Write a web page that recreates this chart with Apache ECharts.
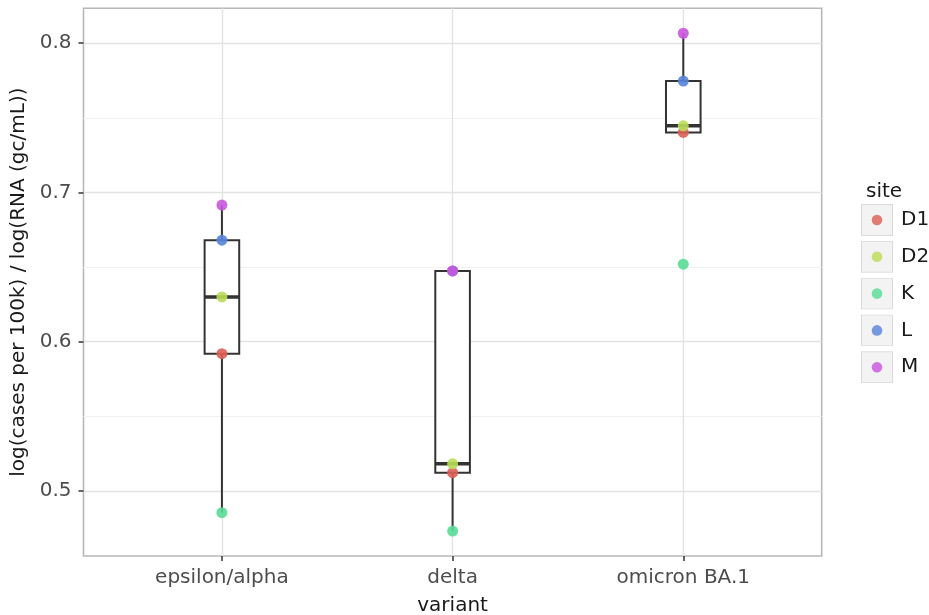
<!DOCTYPE html>
<html>
<head>
<meta charset="utf-8">
<script src="https://cdn.jsdelivr.net/npm/echarts@6/dist/echarts.min.js"></script>
<style>
  html, body { margin: 0; padding: 0; background: #fff; }
  #chart { width: 929px; height: 615px; }
</style>
</head>
<body>
<div id="chart"></div>
<script>
const variants = ["epsilon/alpha", "delta", "omicron BA.1"];
const sites = ["D1", "D2", "K", "L", "M"];
const siteColors = ["#db5f57", "#b9db57", "#57db94", "#5784db", "#c957db"];

// ratio per site, one value per variant (same order as variants)
const siteValues = {
  D1: [0.592, 0.5123, 0.7402],
  D2: [0.630, 0.5182, 0.7446],
  K:  [0.4855, 0.4732, 0.6519],
  L:  [0.668, 0.6474, 0.7746],
  M:  [0.6915, 0.6474, 0.8066]
};

// box statistics
const boxLow  = [0.4855, 0.4732, 0.7402];
const boxQ1   = [0.592, 0.5123, 0.7402];
const boxMed  = [0.630, 0.5182, 0.7446];
const boxQ3   = [0.668, 0.6474, 0.7746];
const boxHigh = [0.6915, 0.6474, 0.8066];

const yTicks = [0.5, 0.6, 0.7, 0.8];
const yMinorTicks = [0.55, 0.65, 0.75];

const chart = echarts.init(document.getElementById("chart"), null, { renderer: "canvas" });
const font = "DejaVu Sans";

const keyIcon = (color) => "image://data:image/svg+xml;utf8," + encodeURIComponent(
  `<svg xmlns="http://www.w3.org/2000/svg" width="32" height="32"><rect x="0.5" y="0.5" width="31" height="31" fill="#f2f2f2" stroke="#d6d6d6"/><circle cx="16" cy="16" r="5.3" fill="${color}" fill-opacity="0.9"/></svg>`);

const boxSeries = {
  type: "custom",
  z: 2,
  silent: true,
  data: variants.map((v, i) => [i, boxLow[i], boxQ1[i], boxMed[i], boxQ3[i], boxHigh[i]]),
  renderItem: (params, api) => {
    const x = api.value(0);
    const half = api.size([0.15, 0])[0] / 2;
    const pLow = api.coord([x, api.value(1)]);
    const pQ1 = api.coord([x, api.value(2)]);
    const pMed = api.coord([x, api.value(3)]);
    const pQ3 = api.coord([x, api.value(4)]);
    const pHigh = api.coord([x, api.value(5)]);
    const stroke = { stroke: "#333333", lineWidth: 2 };
    return {
      type: "group",
      children: [
        { type: "line", shape: { x1: pQ3[0], y1: pQ3[1], x2: pHigh[0], y2: pHigh[1] }, style: stroke },
        { type: "line", shape: { x1: pLow[0], y1: pLow[1], x2: pQ1[0], y2: pQ1[1] }, style: stroke },
        { type: "rect", shape: { x: pQ3[0] - half, y: pQ3[1], width: half * 2, height: pQ1[1] - pQ3[1] },
          style: { fill: "#ffffff", stroke: "#333333", lineWidth: 2 } },
        { type: "line", shape: { x1: pMed[0] - half, y1: pMed[1], x2: pMed[0] + half, y2: pMed[1] },
          style: { stroke: "#333333", lineWidth: 3.5 } }
      ]
    };
  }
};

const pointSeries = sites.map((s, k) => ({
  name: s,
  type: "scatter",
  z: 3,
  symbol: "circle",
  symbolSize: 11,
  itemStyle: { color: siteColors[k], opacity: 0.9 },
  data: siteValues[s].map((v, i) => [i, v])
}));

chart.setOption({
  animation: false,
  backgroundColor: "#ffffff",
  textStyle: { fontFamily: font },
  title: {
    text: "site", left: 861, top: 177,
    textStyle: { fontFamily: font, fontSize: 20, fontWeight: "normal", color: "#1a1a1a" }
  },
  legend: {
    orient: "vertical", left: 861, top: 204,
    itemWidth: 32, itemHeight: 32, itemGap: 4.8,
    padding: 0,
    textStyle: { fontFamily: font, fontSize: 20, color: "#1a1a1a", padding: [0, 0, 0, 3] },
    data: sites.map((s, k) => ({ name: s, icon: keyIcon(siteColors[k]) }))
  },
  grid: {
    left: 83.5, right: 107.3, top: 8.3, bottom: 59,
    show: true, backgroundColor: "#ffffff", borderColor: "#b8b8b8", borderWidth: 1.6,
    containLabel: false, outerBoundsMode: "none"
  },
  xAxis: {
    type: "value", min: -0.6, max: 2.6, position: "bottom",
    name: "variant", nameLocation: "middle", nameGap: 40,
    nameTextStyle: { fontFamily: font, fontSize: 20, color: "#1a1a1a" },
    axisLine: { show: false, onZero: false },
    axisTick: { show: true, length: 5, customValues: [0, 1, 2], lineStyle: { color: "#333333", width: 1.5 } },
    axisLabel: { customValues: [0, 1, 2], formatter: v => variants[Math.round(v)], fontSize: 20, color: "#4d4d4d", margin: 12, fontFamily: font },
    splitLine: { show: true, lineStyle: { color: "#e3e3e3", width: 1.4 } }
  },
  yAxis: [{
    type: "value", min: 0.4565, max: 0.8233, position: "left",
    name: "log(cases per 100k) / log(RNA (gc/mL))", nameLocation: "middle", nameGap: 53,
    nameTextStyle: { fontFamily: font, fontSize: 20, color: "#1a1a1a" },
    axisLine: { show: false, onZero: false },
    axisTick: { show: true, length: 5, customValues: yTicks, lineStyle: { color: "#333333", width: 1.5 } },
    axisLabel: { customValues: yTicks, formatter: v => v.toFixed(1), fontSize: 20, color: "#4d4d4d", margin: 12, fontFamily: font },
    splitLine: { show: true, lineStyle: { color: "#e3e3e3", width: 1.4 } }
  }, {
    type: "value", min: 0.4565, max: 0.8233, position: "left",
    axisLine: { show: false, onZero: false },
    axisTick: { show: false, customValues: yMinorTicks },
    axisLabel: { show: false, customValues: yMinorTicks },
    splitLine: { show: true, lineStyle: { color: "#f1f1f1", width: 1 } }
  }],
  series: [boxSeries, ...pointSeries]
});

window.addEventListener("resize", () => chart.resize());
</script>
</body>
</html>
